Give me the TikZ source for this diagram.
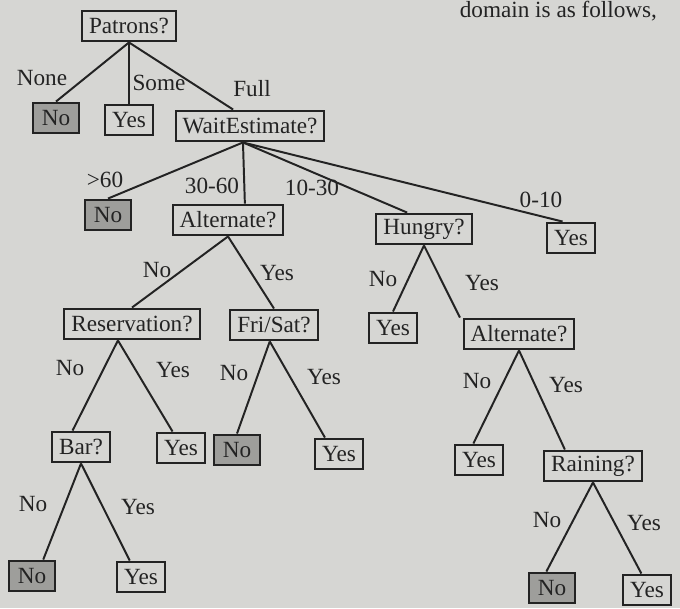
\documentclass[tikz,border=0pt]{standalone}
\usepackage{fontspec}
\setmainfont{Liberation Serif}
\usepackage{xcolor}
\usepackage{tikz}
\usetikzlibrary{positioning}
\definecolor{paper}{RGB}{214,214,211}
\definecolor{ink}{RGB}{35,35,35}
\definecolor{leafno}{RGB}{158,158,155}
\tikzset{
  every node/.style={font=\fontsize{16.5}{18}\selectfont, text=ink},
  test/.style={draw=ink, line width=1.4pt, inner xsep=5pt, inner ysep=2pt, minimum height=22pt},
  yesleaf/.style={test, minimum width=33pt},
  noleaf/.style={test, fill=leafno, minimum width=33pt},
  branch/.style={draw=ink, line width=1.4pt}
}

\begin{document}
\begin{tikzpicture}[x=0.025cm, y=-0.025cm]
\fill[paper] (0,0) rectangle (680,608);
\useasboundingbox (0,0) rectangle (680,608);
\node[anchor=base east] (pagetext) at (662,17) {domain is as follows,};

% root and first level
\node[test] (patrons) at (129,26) {Patrons?};
\node[noleaf] (none) at (56,118) {No};
\node[yesleaf] (some) at (129,120) {Yes};
\node[test] (wait) at (250,126) {WaitEstimate?};

\draw[branch] (patrons.south) -- (none.north);
\draw[branch] (patrons.south) -- (some.north);
\draw[branch] (patrons.south) -- ([xshift=-12]wait.north);
\node at (42,78) {None};
\node at (159,83) {Some};
\node at (252,89) {Full};

% wait estimate
\node[noleaf] (over60) at (108,215) {No};
\node[test] (alt1) at (228,220) {Alternate?};
\node[test] (hungry) at (424,229) {Hungry?};
\node[yesleaf] (under10) at (571,238) {Yes};

\draw[branch] ([xshift=-5]wait.south) -- (over60.north);
\draw[branch] ([xshift=-5]wait.south) -- ([xshift=12]alt1.north);
\draw[branch] ([xshift=-5]wait.south) -- ([xshift=-12]hungry.north);
\draw[branch] ([xshift=-5]wait.south) -- ([xshift=-6]under10.north);
\node at (105,180) {>60};
\node at (212,186) {30-60};
\node at (312,188) {10-30};
\node at (541,200) {0-10};

% alternate (left)
\node[test] (reserv) at (132,324) {Reservation?};
\node[test] (frisat) at (274,325) {Fri/Sat?};
\draw[branch] (alt1.south) -- (reserv.north);
\draw[branch] (alt1.south) -- (frisat.north);
\node at (157,270) {No};
\node at (277,273) {Yes};

% hungry
\node[yesleaf] (hungryno) at (393,328) {Yes};
\node[test] (alt2) at (519,334) {Alternate?};
\draw[branch] (hungry.south) -- (hungryno.north);
\draw[branch] (hungry.south) -- ([xshift=-42]alt2.north);
\node at (383,279) {No};
\node at (482,283) {Yes};

% reservation and fri/sat
\node[test] (bar) at (81,447) {Bar?};
\node[yesleaf] (reservyes) at (181,448) {Yes};
\node[noleaf] (frisatno) at (237,450) {No};
\node[yesleaf] (frisatyes) at (339,454) {Yes};
\draw[branch] ([xshift=-10]reserv.south) -- ([xshift=-6]bar.north);
\draw[branch] ([xshift=-10]reserv.south) -- ([xshift=-6]reservyes.north);
\draw[branch] ([xshift=-3]frisat.south) -- (frisatno.north);
\draw[branch] ([xshift=-3]frisat.south) -- ([xshift=-10]frisatyes.north);
\node at (70,368) {No};
\node at (173,370) {Yes};
\node at (234,373) {No};
\node at (324,377) {Yes};

% alternate (right)
\node[yesleaf] (alt2no) at (479,460) {Yes};
\node[test] (raining) at (593,466) {Raining?};
\draw[branch] (alt2.south) -- ([xshift=-4]alt2no.north);
\draw[branch] (alt2.south) -- ([xshift=-20]raining.north);
\node at (477,381) {No};
\node at (566,385) {Yes};

% bar and raining
\node[noleaf] (barno) at (32,576) {No};
\node[yesleaf] (baryes) at (141,577) {Yes};
\node[noleaf] (rainno) at (552,588) {No};
\node[yesleaf] (rainyes) at (647,590) {Yes};
\draw[branch] (bar.south) -- ([xshift=8]barno.north);
\draw[branch] (bar.south) -- ([xshift=-8]baryes.north);
\draw[branch] (raining.south) -- ([xshift=-4]rainno.north);
\draw[branch] (raining.south) -- ([xshift=-4]rainyes.north);
\node at (33,504) {No};
\node at (138,507) {Yes};
\node at (547,520) {No};
\node at (644,523) {Yes};
\end{tikzpicture}
\end{document}
